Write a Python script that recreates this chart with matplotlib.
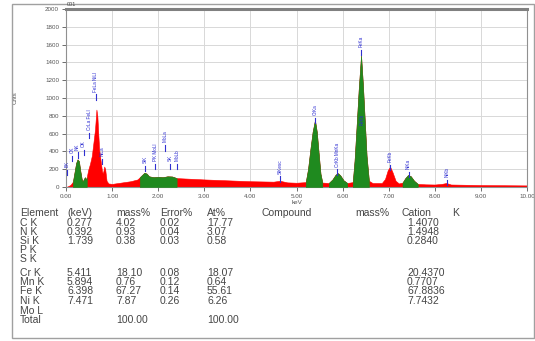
import matplotlib
matplotlib.use("Agg")
import matplotlib.pyplot as plt
import numpy as np

plt.rcParams['font.family'] = ['Liberation Sans', 'DejaVu Sans']

# spectrum (keV, counts)
energy = [0.00, 0.05, 0.10, 0.15, 0.18, 0.22, 0.25, 0.28, 0.31, 0.34, 0.36, 0.39, 0.41, 0.43,
          0.45, 0.48, 0.52, 0.56, 0.60, 0.63, 0.66, 0.68, 0.70, 0.72, 0.75, 0.78, 0.80, 0.83,
          0.85, 0.88, 0.92, 1.00, 1.20, 1.40, 1.55, 1.60, 1.65, 1.70, 1.75, 1.80, 1.90, 2.00,
          2.10, 2.20, 2.30, 2.40, 2.60, 2.80, 3.00, 3.50, 4.00, 4.50, 4.64, 4.80, 5.00, 5.20,
          5.25, 5.30, 5.35, 5.40, 5.44, 5.48, 5.52, 5.56, 5.70, 5.78, 5.85, 5.90, 5.95, 6.02,
          6.10, 6.22, 6.26, 6.30, 6.35, 6.40, 6.44, 6.48, 6.52, 6.57, 6.65, 6.85, 6.92, 6.98,
          7.03, 7.08, 7.15, 7.22, 7.30, 7.36, 7.42, 7.48, 7.55, 7.63, 7.80, 8.00, 8.15, 8.25,
          8.35, 9.00, 10.00]
counts = [0, 10, 25, 60, 150, 270, 310, 290, 180, 90, 60, 90, 110, 80,
          110, 190, 260, 350, 520, 650, 870, 800, 600, 420, 300, 180, 150, 230,
          200, 70, 40, 35, 50, 65, 85, 110, 135, 160, 150, 120, 110, 115,
          110, 120, 118, 100, 95, 90, 85, 75, 65, 60, 70, 52, 48, 55,
          200, 420, 620, 750, 620, 380, 150, 50, 45, 85, 140, 155, 130, 75,
          45, 55, 300, 650, 1100, 1480, 1150, 750, 350, 70, 45, 45, 90, 190,
          228, 170, 70, 40, 50, 100, 135, 120, 70, 35, 30, 28, 35, 45,
          28, 22, 18]

# identified peak windows (drawn green)
roi_start = [0.15, 1.60, 5.20, 5.70, 6.22, 7.30]
roi_end = [0.45, 2.40, 5.56, 6.10, 6.57, 7.63]

# peak markers: label, energy, counts at tick
peak_names = ['BK', 'CK', 'NK', 'OK', 'CrLa FeLl', 'FeLa NiLl', 'NiLa',
              'SiK', 'PK MoLl', 'MoLa', 'SK', 'MoLb', 'SiKesc', 'CrKa',
              'CrKb MnKa', 'FeKa', 'FeKb', 'NiKa', 'NiKb']
peak_kev = [0.02, 0.13, 0.25, 0.38, 0.50, 0.65, 0.79,
            1.72, 1.94, 2.15, 2.26, 2.41, 4.64, 5.40,
            5.88, 6.40, 7.03, 7.43, 8.26]
peak_cnt = [200, 360, 400, 430, 620, 1050, 330,
            250, 270, 480, 270, 270, 130, 790,
            210, 1550, 260, 180, 90]

xticks = [0, 1, 2, 3, 4, 5, 6, 7, 8, 9, 10]
yticks = [0, 200, 400, 600, 800, 1000, 1200, 1400, 1600, 1800, 2000]

# table
col_heads = ['Element', '(keV)', 'mass%', 'Error%', 'At%', 'Compound', 'mass%', 'Cation', 'K']
elements = ['C K', 'N K', 'Si K', 'P K', 'S K', 'Cr K', 'Mn K', 'Fe K', 'Ni K', 'Mo L', 'Total']
kev_col = ['0.277', '0.392', '1.739', '', '', '5.411', '5.894', '6.398', '7.471', '', '']
mass_col = ['4.02', '0.93', '0.38', '', '', '18.10', '0.76', '67.27', '7.87', '', '100.00']
err_col = ['0.02', '0.04', '0.03', '', '', '0.08', '0.12', '0.14', '0.26', '', '']
at_col = ['17.77', '3.07', '0.58', '', '', '18.07', '0.64', '55.61', '6.26', '', '100.00']
cation_col = ['1.4070', '1.4948', '0.2840', '', '', '20.4370', '0.7707', '67.8836', '7.7432', '', '']

W, H = 535, 341
fig = plt.figure(figsize=(W / 100, H / 100), dpi=100)
fig.patches.append(plt.Rectangle((12 / W, 3 / H), 522 / W, 334 / H, transform=fig.transFigure,
                                 fill=False, edgecolor='#a0a0a0', linewidth=1.0))

ax = fig.add_axes([66 / W, 1 - 187 / H, 461 / W, 178 / H])
e = np.array(energy)
c = np.array(counts)
ax.fill_between(e, 0, c, color='#ff0000', linewidth=0.4, edgecolor='#ff0000', zorder=2)
for s, t in zip(roi_start, roi_end):
    m = (e >= s - 1e-9) & (e <= t + 1e-9)
    ax.fill_between(e, 0, c, where=m, color='#1f8a1f', linewidth=0.4, edgecolor='#1f8a1f', zorder=3)

for name, k, n in zip(peak_names, peak_kev, peak_cnt):
    ax.plot([k, k], [n - 70, n - 10], color='#3030d0', linewidth=0.8, zorder=4)
    ax.text(k, n + 20, name, rotation=90, fontsize=3.3, color='#2828d0',
            ha='center', va='bottom', zorder=5)
ax.text(6.42, 700, 'FeKb', rotation=90, fontsize=3.3, color='#2828d0', ha='center', va='bottom', zorder=5)

ax.set_xlim(0, 10)
ax.set_ylim(0, 2000)
ax.set_xticks(xticks)
ax.set_xticklabels([f'{v:.2f}' for v in xticks])
ax.set_yticks(yticks)
ax.set_yticklabels([str(v) for v in yticks])
ax.tick_params(labelsize=4.5, colors='#555555', length=3, width=0.6, pad=2)
ax.grid(True, color='#d8d8d8', linewidth=0.7)
ax.set_axisbelow(True)
for sp in ax.spines.values():
    sp.set_color('#909090')
    sp.set_linewidth(0.8)
ax.spines['top'].set_linewidth(2.2)
ax.spines['top'].set_color('#808080')
ax.set_xlabel('keV', fontsize=4.5, color='#555555', labelpad=1)
ax.set_ylabel('Cnts', fontsize=4.5, color='#555555', labelpad=20)
fig.text(67 / W, 1 - 5 / H, '001', fontsize=4, color='#444444', va='center')

# table text
col_x = [20, 67, 116, 160, 207, 262, 355, 402, 452]
txt = dict(fontsize=7.5, color='#454545', va='center')
for x, h in zip(col_x, col_heads):
    fig.text(x / W, 1 - 213 / H, h, **txt)
row_y = [223, 232, 241, 250, 259, 273, 282, 291, 301, 311, 320]
for y, el, kv, ms, er, at, ca in zip(row_y, elements, kev_col, mass_col, err_col, at_col, cation_col):
    for x, v in zip([20, 67, 116, 160, 207, 407], [el, kv, ms, er, at, ca]):
        if v:
            fig.text(x / W, 1 - y / H, v, **txt)

fig.savefig('out.png', dpi=100)
